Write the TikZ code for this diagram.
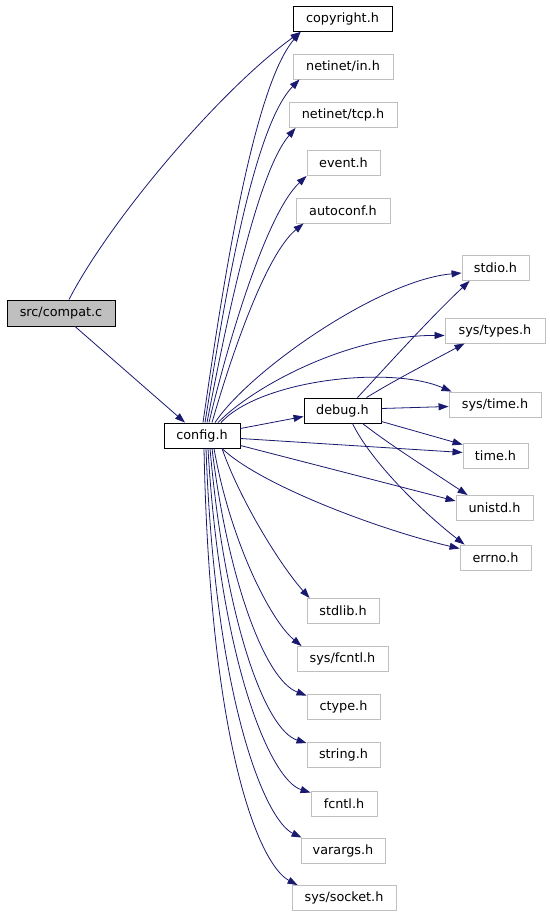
\documentclass[tikz,border=0pt]{standalone}
\usepackage{fontspec}
\newfontfamily\dfont{DejaVu Sans}
\usetikzlibrary{arrows.meta}
\definecolor{edgecol}{HTML}{191970}
\definecolor{graybord}{HTML}{BFBFBF}
\tikzset{
  filebox/.style={draw=black, line width=0.9pt, minimum height=25pt, inner sep=0pt, font=\dfont\fontsize{12.8}{15}\selectfont},
  extbox/.style={filebox, draw=graybord},
  rootbox/.style={filebox, fill=graybord},
  dep/.style={draw=edgecol, line width=0.8pt, -{Triangle[length=10pt,width=7pt]}}
}
\begin{document}
\begin{tikzpicture}[x=1pt,y=-1pt]
\useasboundingbox (0,0) rectangle (549,915);
% nodes
\node[rootbox, minimum width=108pt, minimum height=26pt] (compat) at (61,313) {src/compat.c};
\node[filebox, minimum width=76pt] (config) at (202,435.5) {config.h};
\node[filebox, minimum width=77pt] (debug) at (342.5,410.5) {debug.h};
\node[filebox, minimum width=99pt] (copyright) at (342.5,19) {copyright.h};
\node[extbox, minimum width=100pt] (netin) at (343,66.5) {netinet/in.h};
\node[extbox, minimum width=108pt] (nettcp) at (343,115) {netinet/tcp.h};
\node[extbox, minimum width=73pt] (event) at (343.5,163) {event.h};
\node[extbox, minimum width=94pt] (autoconf) at (343,210.5) {autoconf.h};
\node[extbox, minimum width=72pt] (stdlib) at (343,611) {stdlib.h};
\node[extbox, minimum width=91pt] (sysfcntl) at (342.5,659) {sys/fcntl.h};
\node[extbox, minimum width=73pt] (ctype) at (343.5,706.5) {ctype.h};
\node[extbox, minimum width=73pt] (string) at (343.5,755) {string.h};
\node[extbox, minimum width=66pt] (fcntl) at (344,803.5) {fcntl.h};
\node[extbox, minimum width=84pt] (varargs) at (343,850.5) {varargs.h};
\node[extbox, minimum width=104pt] (syssocket) at (344,898) {sys/socket.h};
\node[extbox, minimum width=67pt] (stdio) at (495.5,268) {stdio.h};
\node[extbox, minimum width=100pt] (systypes) at (495,330.5) {sys/types.h};
\node[extbox, minimum width=92pt] (systime) at (495,404.5) {sys/time.h};
\node[extbox, minimum width=65pt] (time) at (495.5,455.5) {time.h};
\node[extbox, minimum width=77pt] (unistd) at (494.5,508) {unistd.h};
\node[extbox, minimum width=71pt] (errno) at (495.5,557.5) {errno.h};
% compat edges
\draw[dep] ([xshift=8pt]compat.north) .. controls (110,220) and (220,90) .. ([xshift=8pt]copyright.south west);
\draw[dep] ([xshift=14pt]compat.south) -- ([xshift=-17pt]config.north);
% config upward
\draw[dep] ([xshift=1pt]config.north) .. controls (218,320) and (250,90) .. ([xshift=8pt]copyright.south west);
\draw[dep] ([xshift=3pt]config.north) .. controls (220,330) and (250,130) .. ([xshift=7pt]netin.south west);
\draw[dep] ([xshift=5pt]config.north) .. controls (223,340) and (255,175) .. ([xshift=7pt]nettcp.south west);
\draw[dep] ([xshift=7pt]config.north) .. controls (226,350) and (265,215) .. (event.south west);
\draw[dep] ([xshift=10pt]config.north) .. controls (230,360) and (265,255) .. ([xshift=8pt]autoconf.south west);
% config right
\draw[dep] ([xshift=13pt]config.north) .. controls (250,370) and (380,280) .. ([yshift=-5pt]stdio.west);
\draw[dep] ([xshift=16pt]config.north) .. controls (255,385) and (350,335) .. ([yshift=-5pt]systypes.west);
\draw[dep] ([xshift=19pt]config.north) .. controls (260,380) and (390,365) .. ([xshift=3pt]systime.north west);
\draw[dep] ([yshift=7pt]config.east) -- ([yshift=-6pt]debug.west);
\draw[dep] ([yshift=-3pt]config.east) -- ([yshift=3pt]time.west);
\draw[dep] ([yshift=-10pt]config.east) -- ([yshift=7pt]unistd.west);
\draw[dep] ([xshift=20pt]config.south) .. controls (260,485) and (380,530) .. ([yshift=9pt]errno.west);
% config downward
\draw[dep] ([xshift=20pt]config.south) .. controls (240,500) and (280,565) .. ([xshift=3pt]stdlib.north west);
\draw[dep] ([xshift=12pt]config.south) .. controls (230,540) and (270,620) .. ([xshift=5pt]sysfcntl.north west);
\draw[dep] ([xshift=10pt]config.south) .. controls (228,580) and (265,680) .. ([yshift=-2pt]ctype.north west);
\draw[dep] ([xshift=8pt]config.south) .. controls (225,620) and (265,730) .. ([yshift=-1pt]string.north west);
\draw[dep] ([xshift=6pt]config.south) .. controls (220,660) and (270,780) .. ([yshift=-2pt]fcntl.north west);
\draw[dep] ([xshift=4pt]config.south) .. controls (215,700) and (265,820) .. ([xshift=1pt]varargs.north west);
\draw[dep] ([xshift=2pt]config.south) .. controls (210,750) and (260,865) .. ([xshift=6pt]syssocket.north west);
% debug edges
\draw[dep] ([xshift=15pt]debug.north) .. controls (385,368) and (430,318) .. ([xshift=8pt]stdio.south west);
\draw[dep] ([xshift=24pt]debug.north) .. controls (395,380) and (430,362) .. ([xshift=20pt]systypes.south west);
\draw[dep] ([yshift=2pt]debug.east) -- ([yshift=-2pt]systime.west);
\draw[dep] ([yshift=-11pt]debug.east) -- ([yshift=-2pt]time.north west);
\draw[dep] ([xshift=20pt]debug.south) .. controls (390,445) and (430,470) .. ([xshift=12pt]unistd.north west);
\draw[dep] ([xshift=10pt]debug.south) .. controls (370,460) and (420,510) .. ([xshift=5pt]errno.north west);
\end{tikzpicture}
\end{document}
